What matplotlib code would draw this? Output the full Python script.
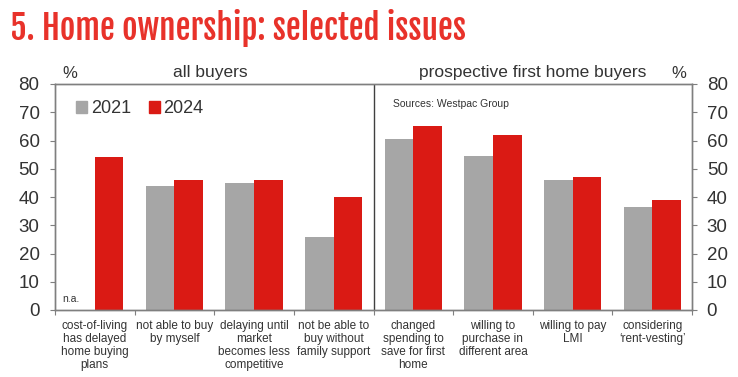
import numpy as np
import matplotlib
matplotlib.use("Agg")
import matplotlib.pyplot as plt
from matplotlib.patches import Patch

plt.rcParams["font.family"] = ["Liberation Sans", "DejaVu Sans"]

categories = [
    "cost-of-living\nhas delayed\nhome buying\nplans",
    "not able to buy\nby myself",
    "delaying until\nmarket\nbecomes less\ncompetitive",
    "not be able to\nbuy without\nfamily support",
    "changed\nspending to\nsave for first\nhome",
    "willing to\npurchase in\ndifferent area",
    "willing to pay\nLMI",
    "considering\n\u2018rent-vesting\u2019",
]
values_2021 = [None, 44, 45, 26, 60.5, 54.6, 46, 36.5]
values_2024 = [54, 46, 46, 40, 65, 62, 47, 39]
y_ticks = [0, 10, 20, 30, 40, 50, 60, 70, 80]

GREY = "#A6A6A6"
RED = "#DA1A14"
TEXT = "#333333"
SPINE = "#7F7F7F"

fig = plt.figure(figsize=(7.38, 3.77), dpi=100)
ax = fig.add_axes([55 / 738, 1 - 310 / 377, 637 / 738, 226 / 377])

x = np.arange(len(categories)) + 0.5
w = 0.36
g = np.array([np.nan if v is None else v for v in values_2021], dtype=float)
ax.bar(x - w / 2, g, width=w, color=GREY, label="2021")
ax.bar(x + w / 2, values_2024, width=w, color=RED, label="2024")

ax.set_xlim(0, len(categories))
ax.set_ylim(0, 80)
ax.set_yticks(y_ticks)
ax.set_xticks(np.arange(len(categories) + 1))
ax.set_xticklabels([])
ax.set_xticks(x, minor=True)
ax.set_xticklabels(categories, minor=True, fontsize=8.5, color=TEXT, linespacing=1.13, va="top")
ax.tick_params(axis="x", which="minor", length=0, pad=7)
ax.tick_params(axis="x", which="major", length=3.6, color=SPINE, direction="out")
ax.tick_params(axis="y", length=3.6, color=SPINE, labelsize=13.5, labelcolor=TEXT, pad=7.5)
ax.axvline(4, color="#404040", lw=1)

ax2 = ax.twinx()
ax2.set_ylim(0, 80)
ax2.set_yticks(y_ticks)
ax2.tick_params(axis="y", length=3.6, color=SPINE, labelsize=13.5, labelcolor=TEXT, pad=7)

for a in (ax, ax2):
    for s in a.spines.values():
        s.set_color(SPINE)
        s.set_linewidth(1)

ax.text(0.2, 2, "n.a.", fontsize=7.5, color=TEXT, ha="center", va="bottom")
ax.text(4.25, 73, "Sources: Westpac Group", fontsize=7.5, color=TEXT, ha="left", va="center")

ax.legend(handles=[Patch(color=GREY, label="2021"), Patch(color=RED, label="2024")],
          loc="upper left", bbox_to_anchor=(0.008, 1.0), ncol=2, frameon=False,
          fontsize=13, handlelength=0.6, handleheight=0.6, handletextpad=0.2,
          columnspacing=1.0, labelcolor=TEXT)

fig.text(62 / 738, 1 - 73 / 377, "%", fontsize=12, color=TEXT, ha="left", va="center")
fig.text(210 / 738, 1 - 73 / 377, "all buyers", fontsize=12.5, color=TEXT, ha="center", va="center")
fig.text(533 / 738, 1 - 73 / 377, "prospective first home buyers", fontsize=12.5, color=TEXT,
         ha="center", va="center")
fig.text(686 / 738, 1 - 73 / 377, "%", fontsize=12, color=TEXT, ha="right", va="center")

fig.text(10 / 738, 1 - 28 / 377, "5. Home ownership: selected issues", fontsize=24,
         fontweight="bold", color="#E8322A", ha="left", va="center",
         family=["Fjalla One", "Barlow Condensed", "Roboto Condensed", "DejaVu Sans"])

fig.savefig("out.png", dpi=100)
